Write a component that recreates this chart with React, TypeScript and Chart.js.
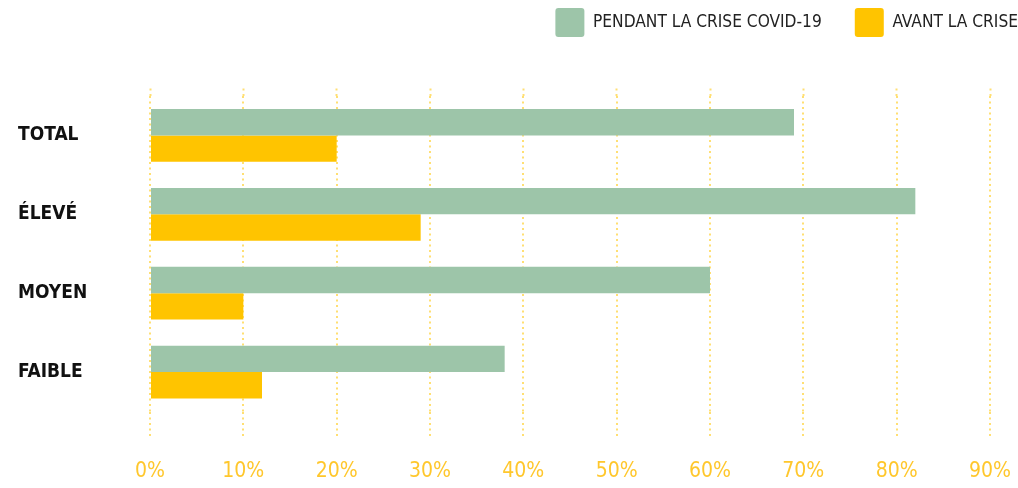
import React, { useEffect, useRef } from "react";
import { Chart, registerables } from "chart.js";

Chart.register(...registerables);

const categories = ["TOTAL", "ÉLEVÉ", "MOYEN", "FAIBLE"];
const seriesNames = ["PENDANT LA CRISE COVID-19", "AVANT LA CRISE"];
const pendant = [69, 82, 60, 38];
const avant = [20, 29, 10, 12];
const xTicks = [0, 10, 20, 30, 40, 50, 60, 70, 80, 90];

const GREEN = "#9dc5a9";
const YELLOW = "#ffc400";
const GRID = "rgba(255, 196, 0, 0.55)";
const FONT = "'Liberation Sans Narrow', 'DejaVu Sans Condensed', 'Arial Narrow', sans-serif";
const DASH = [2, 3.5];

export default function App() {
  const ref = useRef<HTMLCanvasElement | null>(null);

  useEffect(() => {
    if (!ref.current) return;
    const chart = new Chart(ref.current, {
      type: "bar",
      data: {
        labels: categories,
        datasets: [
          { label: seriesNames[0], data: pendant, backgroundColor: GREEN, borderWidth: 0, xAxisID: "x" },
          { label: seriesNames[1], data: avant, backgroundColor: YELLOW, borderWidth: 0, xAxisID: "x" },
        ],
      },
      options: {
        indexAxis: "y",
        animation: false,
        responsive: true,
        maintainAspectRatio: false,
        layout: { padding: { top: -25, right: -33, left: 18, bottom: 0 } },
        datasets: { bar: { categoryPercentage: 0.67, barPercentage: 1 } },
        plugins: {
          tooltip: { enabled: false },
          legend: {
            position: "top",
            align: "end",
            labels: {
              boxWidth: 29,
              boxHeight: 29,
              padding: 33,
              color: "#222",
              useBorderRadius: true,
              borderRadius: 3,
              font: { family: FONT, size: 17.2 },
            },
          },
        },
        scales: {
          x: {
            type: "linear",
            position: "bottom",
            min: xTicks[0],
            max: xTicks[xTicks.length - 1],
            z: 1,
            afterBuildTicks: (s: any) => {
              s.ticks = xTicks.map((v) => ({ value: v }));
            },
            afterFit: (s: any) => {
              s.height = 76.5;
              s.paddingRight = 28;
            },
            border: { display: false, dash: DASH },
            grid: {
              color: GRID,
              lineWidth: 2,
              drawTicks: true,
              tickLength: 25.5,
              tickColor: GRID,
              tickWidth: 2,
              tickBorderDash: DASH,
            },
            ticks: {
              color: "#ffc72c",
              padding: 22,
              font: { family: FONT, size: 21 },
              callback: (v: any) => v + "%",
            },
          },
          x2: {
            type: "linear",
            position: "top",
            display: true,
            min: xTicks[0],
            max: xTicks[xTicks.length - 1],
            z: 1,
            afterBuildTicks: (s: any) => {
              s.ticks = xTicks.map((v) => ({ value: v }));
            },
            afterFit: (s: any) => {
              s.height = 49;
              s.paddingRight = 28;
            },
            border: { display: false },
            grid: {
              drawOnChartArea: false,
              drawTicks: true,
              tickLength: 7.5,
              tickColor: GRID,
              tickWidth: 2,
              tickBorderDash: DASH,
            },
            ticks: { display: false },
          },
          y: {
            position: "left",
            afterFit: (s: any) => {
              s.width = 132;
            },
            border: { display: false },
            grid: { display: false, drawTicks: false },
            ticks: {
              crossAlign: "far",
              color: "#111",
              padding: 0,
              font: { family: FONT, size: 19, weight: "bold" },
            },
          },
        },
      },
    });
    return () => chart.destroy();
  }, []);

  return (
    <div style={{ position: "fixed", left: 0, top: 0, width: 1018, height: 488, background: "#fff" }}>
      <canvas ref={ref} />
    </div>
  );
}
